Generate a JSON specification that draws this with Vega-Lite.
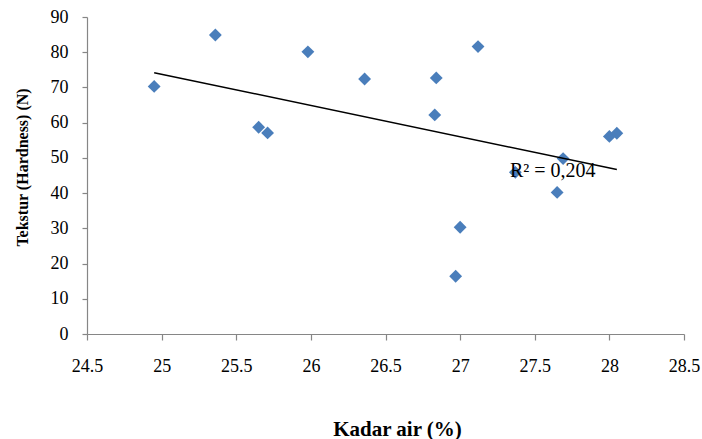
{
  "$schema": "https://vega.github.io/schema/vega-lite/v6.json",
  "autosize": {"type": "none"},
  "width": 597,
  "height": 317,
  "padding": {"left": 87, "top": 17, "right": 18, "bottom": 105},
  "background": "white",
  "config": {
    "view": {"stroke": null},
    "font": "Liberation Serif",
    "axis": {
      "grid": false,
      "domainColor": "#868686",
      "tickColor": "#868686",
      "domainWidth": 1.2,
      "tickWidth": 1.2,
      "tickSize": 5,
      "labelFont": "Liberation Serif",
      "labelFontSize": 18,
      "labelColor": "#000000",
      "labelOverlap": false,
      "labelFlush": false,
      "titleFont": "Liberation Serif",
      "titleFontWeight": "bold",
      "titleColor": "#000000"
    }
  },
  "datasets": {
    "pts": [
      {"kadar_air": 24.95, "tekstur": 70.3},
      {"kadar_air": 25.36, "tekstur": 84.9},
      {"kadar_air": 25.98, "tekstur": 80.1},
      {"kadar_air": 26.36, "tekstur": 72.4},
      {"kadar_air": 25.65, "tekstur": 58.7},
      {"kadar_air": 25.71, "tekstur": 57.1},
      {"kadar_air": 27.12, "tekstur": 81.6},
      {"kadar_air": 26.84, "tekstur": 72.7},
      {"kadar_air": 26.83, "tekstur": 62.2},
      {"kadar_air": 28.0, "tekstur": 56.1},
      {"kadar_air": 28.05, "tekstur": 57.0},
      {"kadar_air": 27.69, "tekstur": 49.8},
      {"kadar_air": 27.37, "tekstur": 45.9},
      {"kadar_air": 27.65, "tekstur": 40.2},
      {"kadar_air": 27.0, "tekstur": 30.3},
      {"kadar_air": 26.97, "tekstur": 16.4}
    ],
    "label": [
      {"kadar_air": 27.334, "tekstur": 44.5, "text": "R² = 0,204"}
    ]
  },
  "encoding": {
    "x": {
      "field": "kadar_air", "type": "quantitative",
      "scale": {"domain": [24.5, 28.5], "nice": false, "zero": false},
      "axis": {
        "values": [24.5, 25, 25.5, 26, 26.5, 27, 27.5, 28, 28.5],
        "format": ".1~f",
        "tickSize": 6,
        "labelPadding": 17,
        "title": "Kadar air (%)",
        "titleFontSize": 21,
        "titleX": 310,
        "titleY": 101,
        "titleAnchor": null,
        "titleAlign": "center",
        "titleBaseline": "alphabetic"
      }
    },
    "y": {
      "field": "tekstur", "type": "quantitative",
      "scale": {"domain": [0, 90], "nice": false, "zero": true},
      "axis": {
        "values": [0, 10, 20, 30, 40, 50, 60, 70, 80, 90],
        "labelPadding": 14,
        "title": "Tekstur (Hardness) (N)",
        "titleFontSize": 16,
        "titleX": -60,
        "titleY": 150,
        "titleAngle": -90,
        "titleAlign": "center",
        "titleBaseline": "alphabetic"
      }
    }
  },
  "layer": [
    {
      "data": {"name": "pts"},
      "mark": {"type": "point", "shape": "diamond", "filled": true, "size": 165, "color": "#4A7EBB", "opacity": 1}
    },
    {
      "data": {"name": "pts"},
      "transform": [{"regression": "tekstur", "on": "kadar_air"}],
      "mark": {"type": "line", "color": "#000000", "strokeWidth": 1.5}
    },
    {
      "data": {"name": "label"},
      "mark": {"type": "text", "align": "left", "baseline": "alphabetic", "fontSize": 20, "font": "Liberation Serif", "color": "#000000"},
      "encoding": {
        "text": {"field": "text"}
      }
    }
  ]
}
